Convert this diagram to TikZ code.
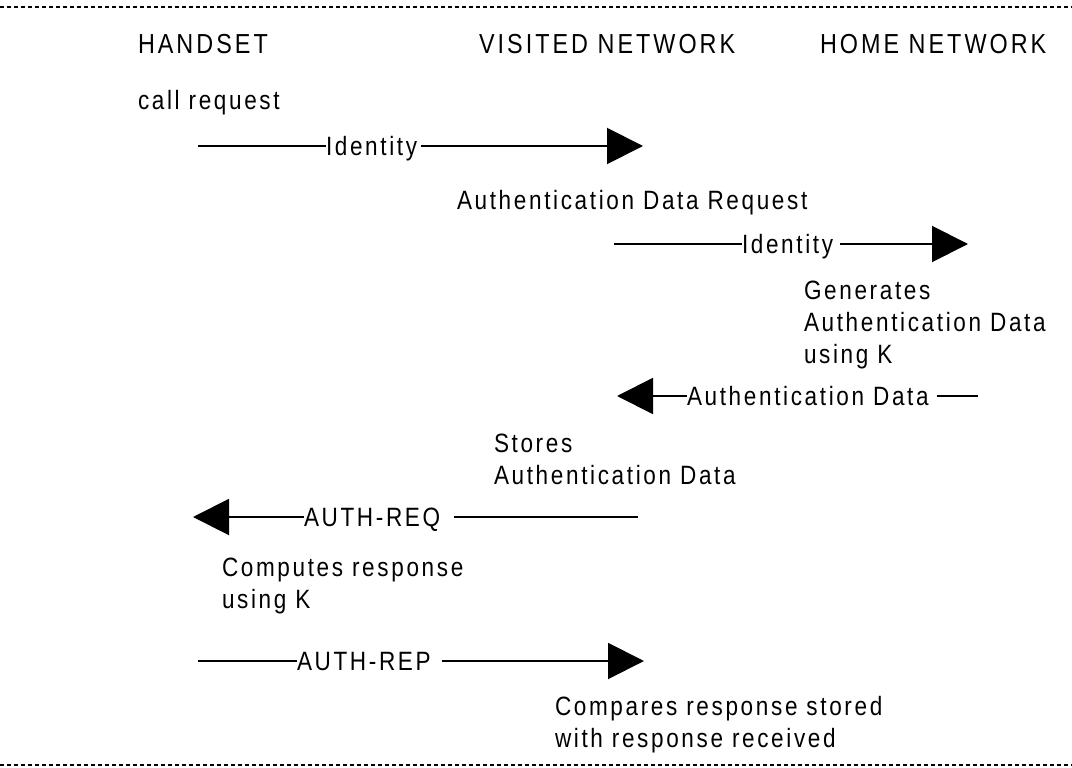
\documentclass[tikz,border=0pt]{standalone}
\usepackage{fontspec}
\setmainfont{Liberation Sans}[FakeStretch=0.85, LetterSpace=10]
\newfontfamily\ttlfont{Liberation Sans}[FakeStretch=0.85, LetterSpace=11]
\usetikzlibrary{arrows.meta}
\tikzset{
  txt/.style={font=\fontsize{26.5}{32}\selectfont, inner sep=0pt, outer sep=0pt},
  ttl/.style={font=\ttlfont\fontsize{27.5}{32}\selectfont, inner sep=0pt, outer sep=0pt, anchor=base west},
  lbl/.style={txt, anchor=base west},
  blk/.style={txt, anchor=north west, align=left},
  msg/.style={line width=2pt},
  tip/.style={-{Triangle[length=36pt,width=36pt]}},
  rtip/.style={{Triangle[length=36pt,width=36pt]}-},
  rule/.style={line width=1.8pt, dash pattern=on 4pt off 3pt}
}
\begin{document}
\begin{tikzpicture}[x=1pt, y=-1pt]
\useasboundingbox (0,0) rectangle (1072,768);
% rules
\draw[rule] (0,7) -- (1072,7);
\draw[rule] (0,765) -- (1072,765);
% titles
\node[ttl] (hs) at (138,54) {HANDSET};
\node[ttl] (vn) at (479,54) {VISITED NETWORK};
\node[ttl] (hn) at (820,54) {HOME NETWORK};
% notes
\node[lbl] (cr) at (138,110) {call request};
\node[lbl] (adr) at (457,209) {Authentication Data Request};
\node[blk] (gen) at (804,281) {Generates\\Authentication Data\\using K};
\node[blk] (sto) at (494,434) {Stores\\Authentication Data};
\node[blk] (cmp) at (222,558) {Computes response\\using K};
\node[blk] (cmr) at (555,696) {Compares response stored\\with response received};
% message 1: Identity handset -> visited
\coordinate (m1s) at (198,146);
\coordinate (m1e) at (643,146);
\node[lbl] (m1) at (326,155) {Identity};
\draw[msg] (m1s) -- (m1s -| m1.west);
\draw[msg,tip] ([xshift=4pt]m1s -| m1.east) -- (m1e);
% message 2: Identity visited -> home
\coordinate (m2s) at (614,244);
\coordinate (m2e) at (968,244);
\node[lbl] (m2) at (742,253) {Identity};
\draw[msg] (m2s) -- (m2s -| m2.west);
\draw[msg,tip] ([xshift=7pt]m2s -| m2.east) -- (m2e);
% message 3: Authentication Data home -> visited
\coordinate (m3s) at (978,396);
\coordinate (m3e) at (617,396);
\node[lbl] (m3) at (687,405) {Authentication Data};
\draw[msg,rtip] (m3e) -- (m3e -| m3.west);
\draw[msg] ([xshift=8pt]m3s -| m3.east) -- (m3s);
% message 4: AUTH-REQ visited -> handset
\coordinate (m4s) at (638,517);
\coordinate (m4e) at (193,517);
\node[lbl] (m4) at (304,526) {AUTH-REQ};
\draw[msg,rtip] (m4e) -- (m4e -| m4.west);
\draw[msg] ([xshift=14pt]m4s -| m4.east) -- (m4s);
% message 5: AUTH-REP handset -> visited
\coordinate (m5s) at (198,661);
\coordinate (m5e) at (644,661);
\node[lbl] (m5) at (297,670) {AUTH-REP};
\draw[msg] (m5s) -- (m5s -| m5.west);
\draw[msg,tip] ([xshift=11pt]m5s -| m5.east) -- (m5e);
\end{tikzpicture}
\end{document}
